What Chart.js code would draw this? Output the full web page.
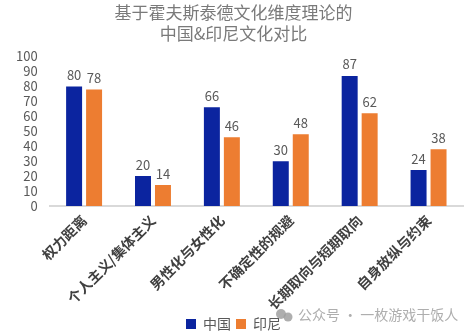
<!DOCTYPE html>
<html>
<head>
<meta charset="utf-8">
<script src="https://cdn.jsdelivr.net/npm/chart.js@4"></script>
<style>
  html, body { margin: 0; padding: 0; background: #fff; }
  #wrap { width: 469px; height: 335px; position: relative; }
</style>
</head>
<body>
<div id="wrap"><canvas id="chart" width="469" height="335"></canvas></div>
<script>
  const categories = ['权力距离', '个人主义/集体主义', '男性化与女性化', '不确定性的规避', '长期取向与短期取向', '自身放纵与约束'];
  const chinaValues = [80, 20, 66, 30, 87, 24];
  const indonesiaValues = [78, 14, 46, 48, 62, 38];
  const seriesNames = ['中国', '印尼'];
  const titleLines = ['基于霍夫斯泰德文化维度理论的', '中国&印尼文化对比'];
  const watermark = '公众号 · 一枚游戏干饭人';

  const FONT = '"Noto Sans CJK SC", "Noto Sans", sans-serif';

  // value labels above each bar
  const barLabels = {
    id: 'barLabels',
    afterDatasetsDraw(chart) {
      const ctx = chart.ctx;
      ctx.save();
      ctx.font = '13px ' + FONT;
      ctx.fillStyle = '#595959';
      ctx.textAlign = 'center';
      ctx.textBaseline = 'bottom';
      chart.data.datasets.forEach((ds, i) => {
        chart.getDatasetMeta(i).data.forEach((bar, j) => {
          ctx.fillText(ds.data[j], bar.x, bar.y - 5);
        });
      });
      ctx.restore();
    }
  };

  // account watermark in the lower right corner
  const watermarkText = {
    id: 'watermarkText',
    afterDraw(chart) {
      const ctx = chart.ctx;
      ctx.save();
      ctx.fillStyle = 'rgba(160,160,160,0.85)';
      ctx.beginPath();
      ctx.arc(281, 314, 5, 0, Math.PI * 2);
      ctx.fill();
      ctx.beginPath();
      ctx.arc(288, 317, 4.5, 0, Math.PI * 2);
      ctx.fill();
      ctx.font = '14px ' + FONT;
      ctx.textAlign = 'left';
      ctx.textBaseline = 'middle';
      ctx.fillText(watermark, 298, 315);
      ctx.restore();
    }
  };

  new Chart(document.getElementById('chart').getContext('2d'), {
    type: 'bar',
    data: {
      labels: categories,
      datasets: [
        { label: seriesNames[0], data: chinaValues, backgroundColor: '#0b249f' },
        { label: seriesNames[1], data: indonesiaValues, backgroundColor: '#ed7d31' }
      ]
    },
    options: {
      responsive: false,
      animation: false,
      categoryPercentage: 0.58,
      barPercentage: 0.8,
      layout: { padding: { left: 4, right: 6, top: 0, bottom: -6 } },
      plugins: {
        title: {
          display: true,
          text: titleLines,
          color: '#7a7a7a',
          font: { family: FONT, size: 17, weight: 'normal', lineHeight: 1.25 },
          padding: { top: 2, bottom: 12 }
        },
        legend: {
          position: 'bottom',
          labels: {
            color: '#595959',
            font: { family: FONT, size: 14 },
            boxWidth: 10,
            boxHeight: 10,
            padding: 5
          }
        },
        tooltip: { enabled: false }
      },
      scales: {
        x: {
          grid: { display: false, drawTicks: false },
          border: { color: '#d9d9d9', width: 2 },
          afterFit: s => { s.height = 106; },
          ticks: {
            autoSkip: false,
            color: '#404040',
            font: { family: FONT, size: 14, weight: 'bold' },
            minRotation: 45,
            maxRotation: 45,
            padding: 6
          }
        },
        y: {
          min: 0,
          max: 100,
          grid: { display: false, drawTicks: false },
          border: { display: false },
          ticks: {
            autoSkip: false,
            stepSize: 10,
            color: '#595959',
            font: { family: FONT, size: 13 },
            padding: 12
          }
        }
      }
    },
    plugins: [barLabels, watermarkText]
  });
</script>
</body>
</html>
